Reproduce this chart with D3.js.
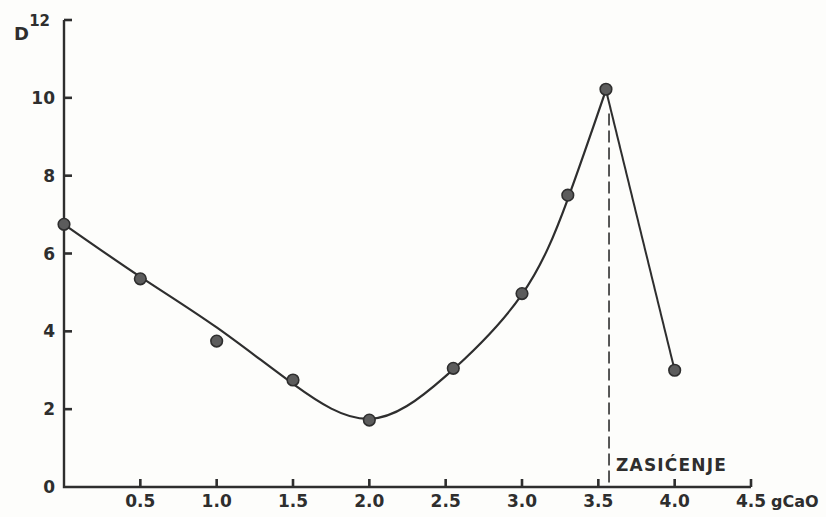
<!DOCTYPE html>
<html>
<head>
<meta charset="utf-8">
<script src="https://cdn.jsdelivr.net/npm/d3@7"></script>
<style>
  body { margin: 0; background: #fdfdfb; }
  svg text { font-family: "DejaVu Sans", sans-serif; fill: #2e2e2e; font-weight: bold; }
</style>
</head>
<body>
<div id="chart"></div>
<script>
// measured points (gCaO, D)
const doseX = [0, 0.5, 1.0, 1.5, 2.0, 2.55, 3.0, 3.3, 3.55, 4.0];
const valueD = [6.75, 5.35, 3.75, 2.75, 1.72, 3.05, 4.97, 7.5, 10.22, 3.0];

// hand-drawn smooth curve, up to the peak
const curveX = [0, 0.5, 1.0, 1.5, 2.0, 2.5, 3.0, 3.3, 3.55];
const curveD = [6.75, 5.4, 4.1, 2.65, 1.75, 2.85, 4.95, 7.4, 10.2];
// straight fall after saturation
const fallX = [3.55, 4.0];
const fallD = [10.2, 3.0];

const xTicks = [0.5, 1.0, 1.5, 2.0, 2.5, 3.0, 3.5, 4.0, 4.5];
const yTicks = [0, 2, 4, 6, 8, 10, 12];
const saturationX = 3.57;

const width = 826, height = 517;
const ink = "#2e2e2e";
const TICK = 8;

const svg = d3.select("#chart").append("svg").attr("width", width).attr("height", height);

const x = d3.scaleLinear().domain([0, 4.5]).range([64, 751]);
const y = d3.scaleLinear().domain([0, 12]).range([487, 20]);

// axis lines
svg.append("path").attr("d", `M${x(0)},${y(12)}V${y(0)}H${x(4.5)}`)
  .attr("fill", "none").attr("stroke", ink).attr("stroke-width", 2.4);

// inward ticks
svg.append("g").selectAll("rect").data(yTicks.filter((d) => d > 0)).join("rect")
  .attr("x", x(0)).attr("y", (d) => y(d) - 1.3)
  .attr("width", TICK).attr("height", 2.6).attr("fill", ink);
svg.append("g").selectAll("rect").data(xTicks).join("rect")
  .attr("x", (d) => x(d) - 1.3).attr("y", y(0) - TICK)
  .attr("width", 2.6).attr("height", TICK).attr("fill", ink);

// tick labels
svg.append("g").selectAll("text").data(yTicks).join("text")
  .attr("x", (d) => (d === 12 ? 50 : 55))
  .attr("y", (d) => y(d) + 6)
  .attr("text-anchor", "end")
  .attr("font-size", (d) => (d === 12 ? 15 : 17))
  .text((d) => d);

svg.append("g").selectAll("text").data(xTicks).join("text")
  .attr("x", (d) => x(d)).attr("y", 507)
  .attr("text-anchor", "middle").attr("font-size", 17)
  .text((d) => d.toFixed(1));

svg.append("text").attr("x", 14).attr("y", 40).attr("font-size", 18).text("D");
svg.append("text").attr("x", 771).attr("y", 507).attr("font-size", 16).text("gCaO");

// saturation marker
svg.append("line")
  .attr("x1", x(saturationX)).attr("x2", x(saturationX))
  .attr("y1", y(9.6)).attr("y2", y(0))
  .attr("stroke", ink).attr("stroke-width", 1.6).attr("stroke-dasharray", "12,5");
svg.append("text").attr("x", x(saturationX) + 7).attr("y", 471)
  .attr("font-size", 17).attr("font-weight", "normal").attr("letter-spacing", 1.2)
  .text("ZASIĆENJE");

// curves
const line = d3.line().x((d) => x(d[0])).y((d) => y(d[1]));
svg.append("path")
  .attr("d", line.curve(d3.curveNatural)(d3.zip(curveX, curveD)))
  .attr("fill", "none").attr("stroke", ink).attr("stroke-width", 2.2);
svg.append("path")
  .attr("d", line.curve(d3.curveLinear)(d3.zip(fallX, fallD)))
  .attr("fill", "none").attr("stroke", ink).attr("stroke-width", 2);

// points
svg.append("g").selectAll("circle").data(d3.zip(doseX, valueD)).join("circle")
  .attr("cx", (d) => x(d[0])).attr("cy", (d) => y(d[1])).attr("r", 5.8)
  .attr("fill", "#5c5c5c").attr("stroke", ink).attr("stroke-width", 1.6);
</script>
</body>
</html>
